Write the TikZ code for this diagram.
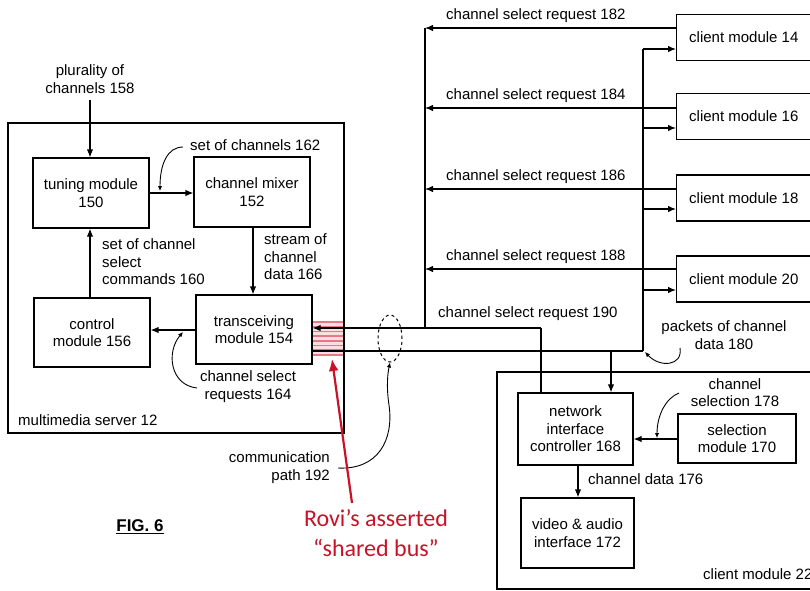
\documentclass[tikz,border=0pt]{standalone}
\usepackage{fontspec}
\setmainfont{Liberation Sans}
\newfontfamily\calfont{Carlito}
\usetikzlibrary{arrows.meta,shapes.geometric}
\definecolor{rovired}{RGB}{200,18,40}
\definecolor{hatchred}{RGB}{232,120,132}
\definecolor{hatchbg}{RGB}{250,222,226}
\begin{document}
\begin{tikzpicture}[x=1pt,y=-1pt,
  every node/.style={font=\fontsize{15}{17.5}\selectfont, inner sep=0pt},
  box/.style={draw, line width=1.2pt, align=center},
  arr/.style={-{Latex[length=8pt,width=6.5pt]}, line width=1.2pt},
  ln/.style={line width=1.2pt},
  ptr/.style={-{Latex[length=5pt,width=4.5pt]}, line width=0.9pt},
  lbl/.style={align=left},
  clbl/.style={align=center}]
\useasboundingbox (0,0) rectangle (810,590);
\clip (0,0) rectangle (810,590);

% red hatch (under the lines)
\fill[hatchbg] (312,321) rectangle (344,356);
\foreach \yy in {322,326.7,331.4,336.1,340.8,345.5,350.2,354.9}
  \draw[hatchred, line width=1.7pt] (312,\yy) -- (344,\yy);

% multimedia server
\draw[line width=1.3pt] (8,123) rectangle (344,433);
\node[anchor=west] (srvl) at (18,420) {multimedia server 12};

% server boxes
\node[box, minimum width=116pt, minimum height=70pt] (tun) at (91,193) {tuning module\\150};
\node[box, minimum width=116pt, minimum height=70pt] (mix) at (252,192) {channel mixer\\152};
\node[box, minimum width=116pt, minimum height=69pt] (ctl) at (92,332.5) {control\\module 156};
\node[box, minimum width=116pt, minimum height=69pt] (trx) at (254,329.5) {transceiving\\module 154};

% plurality
\node[clbl] (plur) at (90,79) {plurality of\\channels 158};
\coordinate (plurs) at (90,100);
\draw[arr] (plurs) -- (tun.north -| plurs);

\draw[arr] (tun.east |- 0,193) -- (mix.west |- 0,193);
\node[anchor=west] (soc) at (190,145) {set of channels 162};
\coordinate (socs) at (183,147);
\coordinate (soce) at (160,191);
\draw[ptr] (socs) .. controls (167,147) and (160,165) .. (soce);

\draw[arr] (ctl.north -| 90,0) -- (tun.south -| 90,0);
\node[lbl, anchor=west] (scc) at (102,262) {set of channel\\select\\commands 160};

\draw[arr] (mix.south -| 253,0) -- (trx.north -| 253,0);
\node[lbl, anchor=west] (scd) at (264,257) {stream of\\channel\\data 166};

\draw[arr] (trx.west |- 0,330) -- (ctl.east |- 0,330);
\node[clbl] (csr164) at (248,386.5) {channel select\\requests 164};
\coordinate (p164s) at (197,388);
\coordinate (p164e) at (183,332);
\draw[ptr] (p164s) .. controls (170,385) and (166,352) .. (p164e);

% bus lines
\coordinate (btop) at (541,328);
\coordinate (bv) at (425,328);
\coordinate (bbot) at (643,351);
\draw[arr] (btop) -- (btop -| trx.east);
\draw[ln] (bbot) -- (bbot -| trx.east);

% clients
\foreach \nm/\yc/\num in {c14/37.5/14, c16/116.5/16, c18/198/18, c20/279/20}{
  \node[box, minimum width=150pt, minimum height=46pt, anchor=west] (\nm) at (676,\yc) {};
  \node[anchor=west] (\nm t) at (689,\yc) {client module \num};
}

% requests
\coordinate (r182) at (425,28);
\coordinate (r184) at (425,108);
\coordinate (r186) at (425,189);
\coordinate (r188) at (425,269);
\draw[ln] (r182) -- (bv);
\draw[arr] (c14.west |- r182) -- (r182);
\draw[arr] (c16.west |- r184) -- (r184);
\draw[arr] (c18.west |- r186) -- (r186);
\draw[arr] (c20.west |- r188) -- (r188);
\node[anchor=west] (l182) at (446,16) {channel select request 182};
\node[anchor=west] (l184) at (446,96) {channel select request 184};
\node[anchor=west] (l186) at (446,177) {channel select request 186};
\node[anchor=west] (l188) at (446,257) {channel select request 188};
\node[anchor=west] (l190) at (438,314) {channel select request 190};

% packets
\coordinate (d14) at (643,49);
\draw[ln] (d14) -- (bbot);
\draw[arr] (d14) -- (c14.west |- d14);
\draw[arr] (643,128) -- (c16.west |- 0,128);
\draw[arr] (643,209) -- (c18.west |- 0,209);
\draw[arr] (643,290) -- (c20.west |- 0,290);
\node[clbl] (pk) at (724,335) {packets of channel\\data 180};
\coordinate (pks) at (680,348);
\coordinate (pke) at (645,352);
\draw[ptr] (pks) .. controls (683,366) and (660,368) .. (pke);

% client 22
\draw[line width=1.3pt] (497,372) rectangle (830,589);
\node[anchor=west] (c22l) at (703,574) {client module 22};
\node[box, minimum width=115pt, minimum height=72pt] (nic) at (575.5,429) {network\\interface\\controller 168};
\node[box, minimum width=118pt, minimum height=49pt] (sel) at (737,438.5) {selection\\module 170};
\node[box, minimum width=113pt, minimum height=70pt] (vid) at (577.5,533) {video \& audio\\interface 172};
\draw[ln] (btop) -- (nic.north -| btop);
\draw[arr] (bbot -| 611,0) -- (nic.north -| 611,0);
\draw[arr] (sel.west |- 0,439) -- (nic.east |- 0,439);
\node[clbl] (csel) at (735,392.5) {channel\\selection 178};
\coordinate (css) at (679,393);
\coordinate (cse) at (657,438);
\draw[ptr] (css) .. controls (666,398) and (657,415) .. (cse);
\draw[arr] (nic.south -| 578,0) -- (vid.north -| 578,0);
\node[anchor=west] (cd176) at (588,479) {channel data 176};

% communication path
\node[draw, dashed, ellipse, line width=1pt, minimum width=24pt, minimum height=47pt] (cp) at (390,338.5) {};
\node[align=right, anchor=east] (cpl) at (330,467.5) {communication\\path 192};
\coordinate (cps) at (338,468);
\draw[ptr] (cps) .. controls (378,470) and (394,440) .. (389,405) .. controls (386,385) and (388,372) .. (cp.south);

% red annotation
\coordinate (ra) at (352,503);
\coordinate (rb) at (332,359);
\draw[rovired, line width=2.2pt, -{Latex[length=12pt,width=10pt]}] (ra) -- (rb);
\node[rovired, align=center, font=\calfont\fontsize{24}{30}\selectfont] (rovi) at (376,533) {Rovi’s asserted\\“shared bus”};

% FIG
\node[font=\bfseries\fontsize{17}{19}\selectfont] (fig) at (140,527) {\underline{FIG. 6}};
\end{tikzpicture}
\end{document}
